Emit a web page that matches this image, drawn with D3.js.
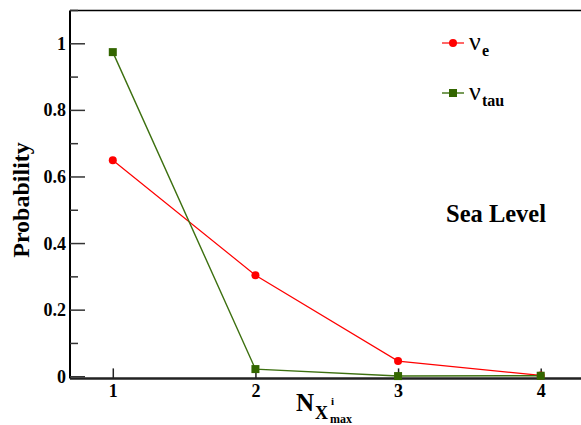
<!DOCTYPE html>
<html>
<head>
<meta charset="utf-8">
<script src="https://cdn.jsdelivr.net/npm/d3@7"></script>
<style>
  body { margin: 0; background: #fff; }
</style>
</head>
<body>
<svg id="chart" width="581" height="425"></svg>
<script>
// data
const nValues = [1, 2, 3, 4];
const nuE = [0.65, 0.305, 0.047, 0.004];
const nuTau = [0.975, 0.023, 0.002, 0.003];
const yTickLabels = [0, 0.2, 0.4, 0.6, 0.8, 1];

const FONT = "Liberation Serif, Times New Roman, serif";
const svg = d3.select("#chart");

const x = d3.scaleLinear().domain([0.7, 4.3]).range([70, 583.5]);
const y = d3.scaleLinear().domain([-0.005, 1.1]).range([378.4, 10.5]);

// frame lines: left, bottom, top
svg.append("line").attr("x1", 70).attr("x2", 70).attr("y1", y(1.1)).attr("y2", y(-0.005))
  .attr("stroke", "#000").attr("stroke-width", 2);
svg.append("line").attr("x1", 70).attr("x2", 581).attr("y1", y(-0.005)).attr("y2", y(-0.005))
  .attr("stroke", "#222").attr("stroke-width", 2.5);
svg.append("line").attr("x1", 70).attr("x2", 581).attr("y1", y(1.1)).attr("y2", y(1.1))
  .attr("stroke", "#000").attr("stroke-width", 1.5);

// y axis, ticks drawn inward
const yMinor = d3.range(0, 1.11, 0.1);
svg.append("g").selectAll("line").data(yMinor).join("line")
  .attr("x1", 70)
  .attr("x2", (d, i) => i % 2 === 0 ? 85 : 78)
  .attr("y1", d => y(d)).attr("y2", d => y(d))
  .attr("stroke", "#333").attr("stroke-width", 1.5);

svg.append("g").selectAll("text").data(yTickLabels).join("text")
  .attr("x", 66).attr("y", d => y(d) + 6)
  .attr("text-anchor", "end")
  .attr("font-family", FONT)
  .attr("font-size", 18).attr("font-weight", "bold")
  .text(d => d);

// x axis ticks
const xAxis = d3.axisBottom(x).tickValues(nValues).tickSize(-10).tickFormat(d3.format("d"));
const gx = svg.append("g").attr("transform", `translate(0,${y(-0.005)})`).call(xAxis)
  .attr("font-family", FONT).attr("font-size", 18);
gx.select(".domain").remove();
gx.selectAll(".tick line").attr("stroke", "#222").attr("stroke-width", 1.5);
gx.selectAll(".tick text")
  .attr("y", 6).attr("font-weight", "bold").attr("fill", "#000");

// axis titles
svg.append("text")
  .attr("transform", "translate(29,200) rotate(-90)")
  .attr("text-anchor", "middle")
  .attr("font-family", FONT)
  .attr("font-size", 24).attr("font-weight", "bold")
  .text("Probability");

const xt = svg.append("g").attr("font-weight", "bold").attr("font-family", FONT);
xt.append("text").attr("x", 296).attr("y", 411).attr("font-size", 25).text("N");
xt.append("text").attr("x", 315).attr("y", 419).attr("font-size", 18).text("X");
xt.append("text").attr("x", 331).attr("y", 405).attr("font-size", 11).text("i");
xt.append("text").attr("x", 330).attr("y", 423).attr("font-size", 12).text("max");

// series
const red = "#ff0000", green = "#336600";
const line = d3.line().x((d, i) => x(nValues[i])).y(d => y(d));

svg.append("path").datum(nuE).attr("d", line)
  .attr("fill", "none").attr("stroke", red).attr("stroke-width", 1.2);
svg.append("path").datum(nuTau).attr("d", line)
  .attr("fill", "none").attr("stroke", "#3d7010").attr("stroke-width", 1.4);

svg.append("g").selectAll("circle").data(nuE).join("circle")
  .attr("cx", (d, i) => x(nValues[i])).attr("cy", d => y(d))
  .attr("r", 4).attr("fill", red);
svg.append("g").selectAll("rect").data(nuTau).join("rect")
  .attr("x", (d, i) => x(nValues[i]) - 4).attr("y", d => y(d) - 4)
  .attr("width", 8).attr("height", 8).attr("fill", green);

// legend
const leg = svg.append("g").attr("font-family", FONT);
leg.append("line").attr("x1", 442).attr("x2", 464).attr("y1", 43).attr("y2", 43)
  .attr("stroke", red).attr("stroke-width", 1.2);
leg.append("circle").attr("cx", 453).attr("cy", 43).attr("r", 4).attr("fill", red);
leg.append("text").attr("x", 469).attr("y", 50).attr("font-size", 26).text("ν");
leg.append("text").attr("x", 482).attr("y", 56).attr("font-size", 16).attr("font-weight", "bold").text("e");

leg.append("line").attr("x1", 442).attr("x2", 464).attr("y1", 93).attr("y2", 93)
  .attr("stroke", "#3d7010").attr("stroke-width", 1.4);
leg.append("rect").attr("x", 449).attr("y", 89).attr("width", 8).attr("height", 8).attr("fill", green);
leg.append("text").attr("x", 469).attr("y", 100).attr("font-size", 26).text("ν");
leg.append("text").attr("x", 482).attr("y", 106).attr("font-size", 16).attr("font-weight", "bold").text("tau");

svg.append("text").attr("x", 446).attr("y", 222)
  .attr("font-family", FONT)
  .attr("font-size", 24.5).attr("font-weight", "bold").text("Sea Level");
</script>
</body>
</html>
